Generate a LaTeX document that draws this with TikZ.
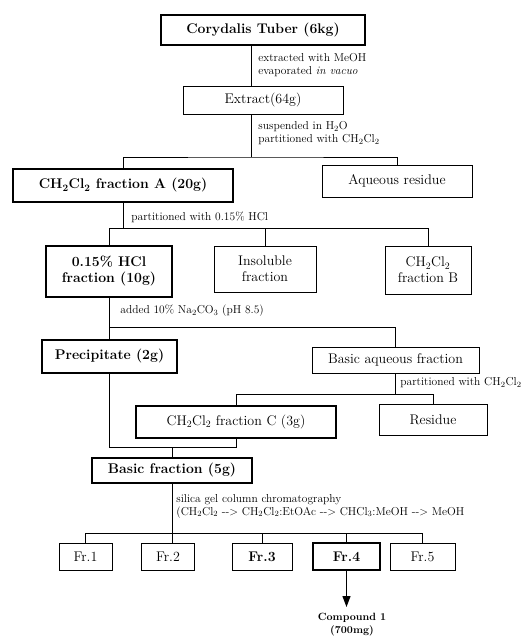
\documentclass[tikz,border=0pt]{standalone}
\usepackage{fontspec}
\usetikzlibrary{arrows.meta}
\newcommand{\dcm}{CH\textsubscript{2}Cl\textsubscript{2}}
\tikzset{
  box/.style={draw, line width=.8pt, inner sep=0pt, align=center,
    font=\fontsize{14}{16}\selectfont},
  hbox/.style={box, line width=1.8pt, font=\fontsize{14}{16}\selectfont\bfseries},
  lbl/.style={anchor=west, inner sep=0pt, align=left,
    font=\fontsize{11.5}{13}\selectfont},
}
\begin{document}
\begin{tikzpicture}[x=1pt, y=-1pt, line width=.8pt]
  \useasboundingbox (0,0) rectangle (531,637);
  % boxes
  \node[hbox, minimum width=204pt, minimum height=30pt] (T) at (263,30) {Corydalis Tuber (6kg)};
  \node[box, minimum width=160pt, minimum height=28pt] (E) at (263,100) {Extract(64g)};
  \node[hbox, minimum width=220pt, minimum height=33pt] (A) at (123,185.5) {\dcm{} fraction A (20g)};
  \node[box, minimum width=150pt, minimum height=32pt] (Aq) at (397,181) {Aqueous residue};
  \node[hbox, minimum width=126pt, minimum height=51pt] (H) at (109,271.5) {0.15\% HCl\\fraction (10g)};
  \node[box, minimum width=102pt, minimum height=46pt] (I) at (265,269) {Insoluble\\fraction};
  \node[box, minimum width=86pt, minimum height=48pt] (B) at (428,270) {\dcm\\fraction B};
  \node[hbox, minimum width=135pt, minimum height=33pt] (P) at (109.5,356.5) {Precipitate (2g)};
  \node[box, minimum width=167pt, minimum height=26pt] (Ba) at (395.5,360) {Basic aqueous fraction};
  \node[hbox, font=\fontsize{14}{16}\selectfont, minimum width=200pt, minimum height=32pt] (C) at (236,422) {\dcm{} fraction C (3g)};
  \node[box, minimum width=108pt, minimum height=31pt] (R) at (433,419.5) {Residue};
  \node[hbox, minimum width=160pt, minimum height=25pt] (Bf) at (172,470.5) {Basic fraction (5g)};
  \node[box, minimum width=53pt, minimum height=27pt] (F1) at (85.5,556.5) {Fr.1};
  \node[box, minimum width=53pt, minimum height=27pt] (F2) at (168,556.5) {Fr.2};
  \node[box, font=\fontsize{14}{16}\selectfont\bfseries, minimum width=60pt, minimum height=27pt] (F3) at (262,556.5) {Fr.3};
  \node[hbox, minimum width=67pt, minimum height=27pt] (F4) at (346.5,556.5) {Fr.4};
  \node[box, minimum width=65pt, minimum height=27pt] (F5) at (422.5,556.5) {Fr.5};
  \node[anchor=north, inner sep=0pt, align=center, font=\fontsize{10.5}{12.5}\selectfont\bfseries] (Cp) at (352,613) {Compound 1\\(700mg)};
  % labels
  \node[lbl] (l1) at (258,65) {extracted with MeOH\\evaporated \textit{in vacuo}};
  \node[lbl] (l2) at (258,133) {suspended in H\textsubscript{2}O\\partitioned with \dcm};
  \node[lbl] (l3) at (131,217) {partitioned with 0.15\% HCl};
  \node[lbl] (l4) at (120,311) {added 10\% Na\textsubscript{2}CO\textsubscript{3} (pH 8.5)};
  \node[lbl] (l5) at (400,383) {partitioned with \dcm};
  \node[lbl] (l6) at (176,506) {silica gel column chromatography\\(\dcm{} -{}-> \dcm:EtOAc -{}-> CHCl\textsubscript{3}:MeOH -{}-> MeOH};
  % junctions
  \coordinate (j1) at (251,157);
  \coordinate (j2) at (0,228);
  \coordinate (j3) at (0,327);
  \coordinate (j4) at (0,394);
  \coordinate (j5) at (0,447);
  \coordinate (j6) at (0,533);
  % connectors
  \draw (T.south -| j1) -- (E.north -| j1);
  \draw (E.south -| j1) -- (j1);
  \draw (A.north) |- (j1) -| (Aq.north);
  \draw (A.south) -- (A.south |- j2);
  \draw (H.north) |- (B.north |- j2) -- (B.north);
  \draw (I.north) -- (I.north |- j2);
  \draw (H.south) -- (H.south |- j3);
  \draw (P.north) |- (Ba.north |- j3) -- (Ba.north);
  \draw (Ba.south) -- (Ba.south |- j4);
  \draw (C.north) |- (R.north |- j4) -- (R.north);
  \draw (P.south) |- (C.south |- j5) -- (C.south);
  \draw (Bf.north) -- (Bf.north |- j5);
  \draw (Bf.south) -- (Bf.south |- F2.north);
  \draw (F1.north) |- (F5.north |- j6) -- (F5.north);
  \draw (F3.north) -- (F3.north |- j6);
  \draw (F4.north) -- (F4.north |- j6);
  \draw[-{Triangle[length=11pt,width=8pt]}, line width=1.2pt, shorten >=6pt] (F4.south) -- (F4.south |- Cp.north);
\end{tikzpicture}
\end{document}
